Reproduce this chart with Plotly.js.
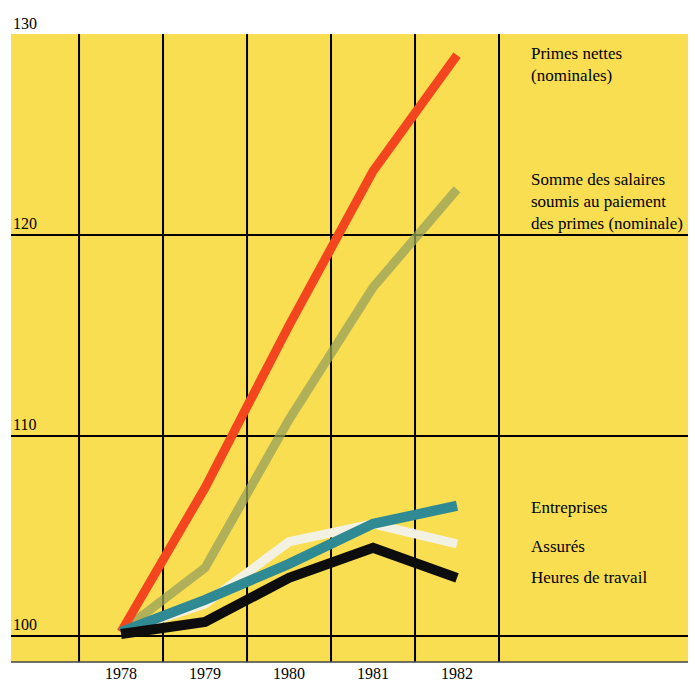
<!DOCTYPE html>
<html>
<head>
<meta charset="utf-8">
<script src="https://cdn.plot.ly/plotly-3.0.1.min.js"></script>
<style>html,body{margin:0;padding:0;background:#fff;}#chart{width:695px;height:687px;}</style>
</head>
<body>
<div id="chart"></div>
<script>
// Data (index 1978 = 100)
const years = [1978, 1979, 1980, 1981, 1982];
const yearLabels = ["1978", "1979", "1980", "1981", "1982"];
const primesNettes = [100.2, 107.4, 115.5, 123.2, 129.0];
const sommeSalaires = [100.2, 103.4, 110.8, 117.4, 122.3];
const entreprises = [100.2, 101.8, 103.6, 105.6, 106.5];
const assures = [100.2, 101.6, 104.7, 105.6, 104.6];
const heuresTravail = [100.1, 100.7, 102.9, 104.4, 102.9];
const yTicks = [100, 110, 120, 130];
const yTickLabels = ["100", "110", "120", "130"];
const xGrid = [1977.5, 1978.5, 1979.5, 1980.5, 1981.5, 1982.5];
const seriesNames = ["Primes nettes<br>(nominales)",
  "Somme des salaires<br>soumis au paiement<br>des primes (nominale)",
  "Entreprises", "Assurés", "Heures de travail"];

const FONT = "Liberation Serif, Times New Roman, serif";

function tr(y, color, width, name) {
  return {x: years, y: y, type: "scatter", mode: "lines", name: name,
    line: {color: color, width: width}, hoverinfo: "skip"};
}
const traces = [
  tr(sommeSalaires, "rgba(150,160,90,0.75)", 9, "Somme des salaires"),
  tr(primesNettes, "#f4461e", 9, "Primes nettes"),
  tr(assures, "#f3f1e2", 9, "Assurés"),
  tr(entreprises, "#2f8a93", 10, "Entreprises"),
  tr(heuresTravail, "#0d0d0d", 10, "Heures de travail")
];

const shapes = xGrid.map(v => ({type: "line", xref: "x", yref: "paper", x0: v, x1: v, y0: 0, y1: 1,
  line: {color: "#000", width: 2}, layer: "below"}));
shapes.push({type: "line", xref: "paper", yref: "paper", x0: 0, x1: 1, y0: 0, y1: 0,
  line: {color: "#444", width: 1.5}, layer: "above"});

const annotations = [];
yTicks.forEach((v, i) => annotations.push({
  xref: "paper", yref: "y", x: 0, y: v, xanchor: "left", yanchor: "bottom", yshift: 1,
  text: yTickLabels[i], showarrow: false, font: {family: FONT, size: 16, color: "#000"}
}));
const labelY = [128.55, 121.7, 106.4, 104.45, 102.9];
seriesNames.forEach((t, i) => annotations.push({
  xref: "paper", yref: "y", x: 0.765, y: labelY[i], xanchor: "left", yanchor: "middle",
  align: "left", text: t, showarrow: false, font: {family: FONT, size: 17, color: "#000"}
}));

const layout = {
  width: 695, height: 687,
  margin: {l: 11, r: 7, t: 34, b: 25},
  paper_bgcolor: "#ffffff",
  plot_bgcolor: "#f9de52",
  showlegend: false,
  font: {family: FONT, size: 16, color: "#000"},
  xaxis: {range: [1976.69, 1984.75], tickmode: "array", tickvals: years, ticktext: yearLabels,
    showgrid: false, zeroline: false, showline: false, ticks: "", fixedrange: true,
    tickfont: {family: FONT, size: 16, color: "#000"}},
  yaxis: {range: [98.7, 130.05], tickmode: "array", tickvals: yTicks, showticklabels: false,
    showgrid: true, gridcolor: "#000", gridwidth: 2, zeroline: false, showline: false, ticks: "",
    fixedrange: true},
  shapes: shapes,
  annotations: annotations
};

Plotly.newPlot("chart", traces, layout, {displayModeBar: false, staticPlot: true});
</script>
</body>
</html>
